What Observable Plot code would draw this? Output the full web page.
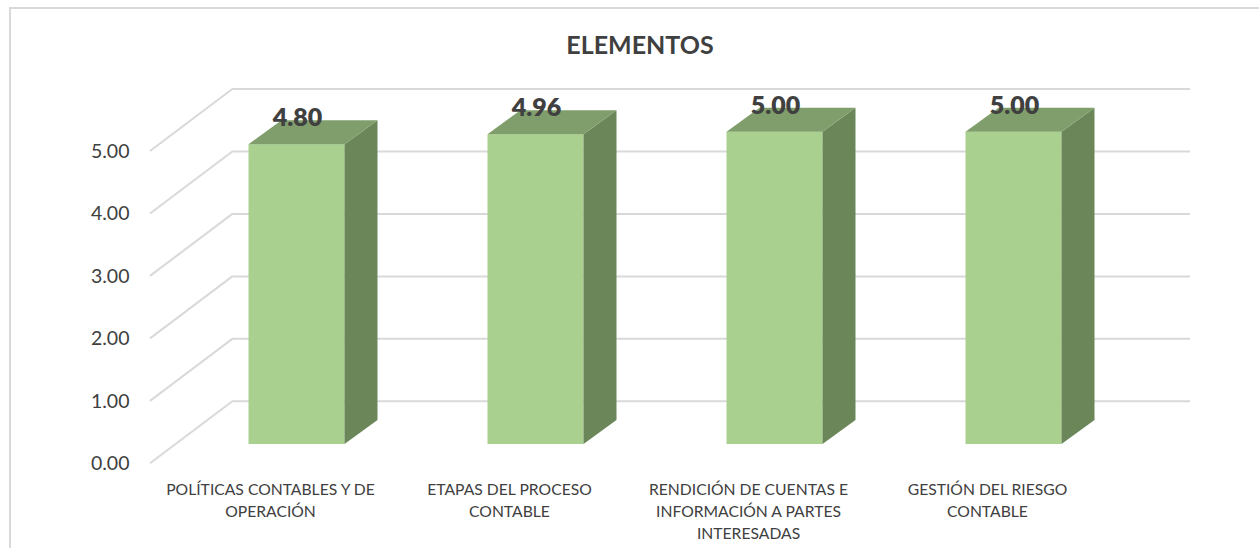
<!DOCTYPE html>
<html><head><meta charset="utf-8">
<script src="https://cdn.jsdelivr.net/npm/d3@7"></script>
<script src="https://cdn.jsdelivr.net/npm/@observablehq/plot@0.6"></script>
<style>
html,body{margin:0;padding:0;background:#fff;}
#wrap{position:relative;width:1259px;height:548px;overflow:hidden;font-family:Lato,"Open Sans",sans-serif;}
#bt{position:absolute;left:9px;top:7px;right:0;height:2px;background:#d9d9d9}
#bl{position:absolute;left:9px;top:7px;bottom:0;width:2px;background:#d9d9d9}
#title{height:70px;box-sizing:border-box;padding-top:31px;padding-left:21px;text-align:center;font:bold 25px/26px Lato,sans-serif;color:#404040;}
#chart svg{display:block}
</style></head><body>
<div id="wrap"><div id="title">ELEMENTOS</div><div id="chart"></div><div id="bt"></div><div id="bl"></div></div>
<script>
// ---- data ----
const categories = [
  "POLÍTICAS CONTABLES Y DE OPERACIÓN",
  "ETAPAS DEL PROCESO CONTABLE",
  "RENDICIÓN DE CUENTAS E INFORMACIÓN A PARTES INTERESADAS",
  "GESTIÓN DEL RIESGO CONTABLE"
];
const tickLabels = [
  "POLÍTICAS CONTABLES Y DE\nOPERACIÓN",
  "ETAPAS DEL PROCESO\nCONTABLE",
  "RENDICIÓN DE CUENTAS E\nINFORMACIÓN A PARTES\nINTERESADAS",
  "GESTIÓN DEL RIESGO\nCONTABLE"
];
const values = [4.80, 4.96, 5.00, 5.00];
const yTicks = [0, 1, 2, 3, 4, 5];

// ---- styling / 3D geometry (pixels) ----
const FRONT = "#a9d08e", SIDE = "#6b8759", TOP = "#7f9e6b", GRID = "#d9d9d9", INK = "#404040";
const WALL = [83, -62.5];      // depth of the back wall
const BAR_OFF = [26.5, -19.3]; // bar front face behind the front plane
const BAR_D = [33, -24];       // bar thickness

const data = categories.map((c, i) => ({cat: c, value: values[i], label: tickLabels[i]}));

function diagonals(index, scales, vals, dims) {
  const y = scales.y;
  const x0 = dims.marginLeft;
  const g = d3.create("svg:g").attr("stroke", GRID).attr("stroke-width", 2).attr("fill", "none");
  for (const t of yTicks) {
    g.append("line").attr("x1", x0).attr("y1", y(t)).attr("x2", x0 + WALL[0]).attr("y2", y(t) + WALL[1]);
  }
  return g.node();
}

function sideTop(index, scales, vals, dims) {
  const {x, y} = scales;
  const bw = typeof x.bandwidth === "function" ? x.bandwidth() : x.bandwidth;
  const g = d3.create("svg:g");
  for (const d of data) {
    const xl = x(d.cat) + BAR_OFF[0], xr = xl + bw;
    const yt = y(d.value) + BAR_OFF[1], yb = y(0) + BAR_OFF[1];
    const [dx, dy] = BAR_D;
    g.append("path").attr("fill", SIDE)
      .attr("d", `M${xr},${yb}L${xr},${yt}L${xr + dx},${yt + dy}L${xr + dx},${yb + dy}Z`);
    g.append("path").attr("fill", TOP)
      .attr("d", `M${xl},${yt}L${xr},${yt}L${xr + dx},${yt + dy}L${xl + dx},${yt + dy}Z`);
  }
  return g.node();
}

const chart = Plot.plot({
  width: 1259,
  height: 478,
  marginLeft: 150,
  marginRight: 152,
  marginTop: 81,
  marginBottom: 84.7,
  style: {fontFamily: "Lato, 'Open Sans', sans-serif", fontSize: "19.5px", color: INK, background: "#fff", overflow: "visible"},
  x: {domain: categories, paddingInner: 0.6, paddingOuter: 0.3, axis: null},
  y: {domain: [0, 5], ticks: 5, tickSize: 0, tickPadding: 21, tickFormat: d3.format(".2f"), label: null, axis: "left"},
  marks: [
    Plot.ruleY(yTicks, {dx: WALL[0], dy: WALL[1], stroke: GRID, strokeWidth: 2}),
    diagonals,
    Plot.barY(data, {x: "cat", y: "value", fill: FRONT, dx: BAR_OFF[0], dy: BAR_OFF[1]}),
    sideTop,
    Plot.text(data, {x: "cat", y: "value", text: d => d3.format(".2f")(d.value), dx: 27, dy: -46,
      fontWeight: 800, fontSize: 25, fill: INK, lineAnchor: "middle"}),
    Plot.text(data, {x: "cat", text: "label", frameAnchor: "bottom", lineAnchor: "top", dy: 15,
      fontSize: 15.7, lineHeight: 1.42, fill: INK})
  ]
});
document.getElementById("chart").appendChild(chart);
</script>
</body></html>
